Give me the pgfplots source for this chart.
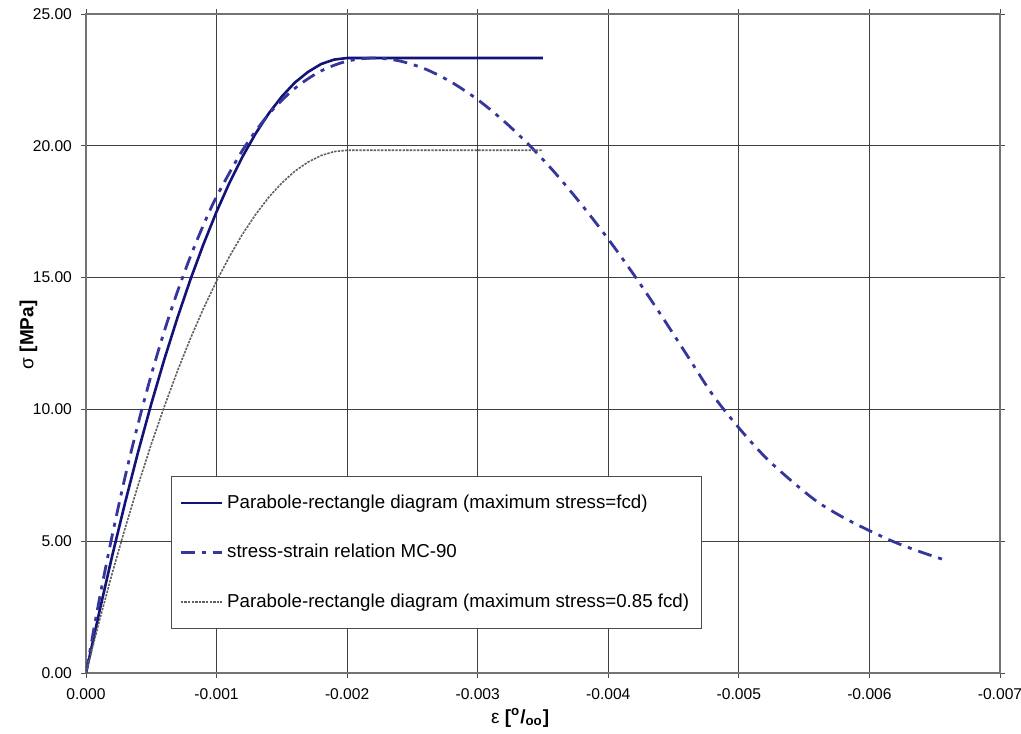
\documentclass[border=0pt]{standalone}
\usepackage{fontspec}
\setmainfont{Liberation Sans}
\usepackage{pgfplots}
\pgfplotsset{compat=1.18}
\definecolor{navy}{HTML}{12127A}
\definecolor{mcblue}{HTML}{35359C}
\definecolor{pgray}{HTML}{606060}

\begin{document}
\begin{tikzpicture}
\useasboundingbox (-43pt,-30pt) rectangle (467.5pt,336.5pt);
\begin{axis}[
  scale only axis, width=457pt, height=329.5pt,
  x dir=reverse,
  xmin=-0.007, xmax=0, ymin=0, ymax=25,
  xtick={0,-0.001,-0.002,-0.003,-0.004,-0.005,-0.006,-0.007},
  xticklabels={0.000,-0.001,-0.002,-0.003,-0.004,-0.005,-0.006,-0.007},
  ytick={0,5,10,15,20,25},
  yticklabels={0.00,5.00,10.00,15.00,20.00,25.00},
  scaled x ticks=false,
  grid=major, major grid style={black!75, line width=0.4pt},
  axis line style={black!55, line width=0.8pt},
  tick align=outside, major tick length=2.5pt,
  tick style={black!70, line width=0.4pt},
  tick label style={font=\fontsize{7.8}{9}\selectfont},
  xticklabel style={yshift=-2pt},
  yticklabel style={xshift=-1pt},
  xlabel={{\fontsize{9.5}{10}\selectfont ε} \textbf{[\textsuperscript{o}/\textsubscript{oo}]}},
  ylabel={{\fontsize{9.5}{10}\selectfont σ} \textbf{[MPa]}},
  label style={font=\fontsize{9.5}{10}\selectfont},
  xlabel style={at={(axis description cs:0.475,0)}, anchor=center, yshift=-22.5pt},
  ylabel style={at={(axis description cs:-0.063,0.513)}, anchor=center},
  legend style={at={(axis description cs:0.093,0.067)}, anchor=south west,
    draw=black!70, fill=white, font=\fontsize{9.35}{10}\selectfont,
    inner xsep=4pt, inner ysep=7pt, row sep=12.5pt},
  legend cell align=left,
  legend image code/.code={\draw[#1] (0pt,0pt) -- (20.5pt,0pt);},
]
\addplot[navy, line width=1.3pt] coordinates {
(0,0)(-0.0001,2.27)(-0.0002,4.43)(-0.0003,6.47)(-0.0004,8.40)(-0.0005,10.21)
(-0.0006,11.90)(-0.0007,13.47)(-0.0008,14.93)(-0.0009,16.27)(-0.0010,17.50)
(-0.0011,18.61)(-0.0012,19.60)(-0.0013,20.47)(-0.0014,21.23)(-0.0015,21.87)
(-0.0016,22.40)(-0.0017,22.80)(-0.0018,23.10)(-0.0019,23.27)(-0.0020,23.33)
(-0.0035,23.33)};
\addlegendentry{Parabole-rectangle diagram (maximum stress=fcd)}
\addplot[mcblue, line width=1.4pt, smooth,
  dash pattern=on 7pt off 3.5pt on 2pt off 3.5pt] coordinates {
(0,0)(-0.0001,2.73)(-0.0002,5.20)(-0.0003,7.45)(-0.0004,9.47)(-0.0005,11.31)
(-0.0006,12.97)(-0.0007,14.46)(-0.0008,15.80)(-0.0009,17.00)(-0.0010,18.07)
(-0.0012,19.84)(-0.0014,21.20)(-0.0016,22.18)(-0.0018,22.84)(-0.0020,23.21)
(-0.0022,23.33)(-0.0024,23.22)(-0.0026,22.91)(-0.0028,22.41)(-0.0030,21.75)
(-0.0032,20.94)(-0.0034,20.00)(-0.0036,18.93)(-0.0038,17.74)(-0.0040,16.46)
(-0.0042,15.08)(-0.0044,13.61)(-0.0046,12.08)(-0.0048,10.55)(-0.0050,9.30)
(-0.0052,8.20)(-0.0054,7.30)(-0.0056,6.50)(-0.0058,5.90)(-0.0060,5.40)
(-0.0062,4.95)(-0.0064,4.58)(-0.0066,4.25)};
\addlegendentry{stress-strain relation MC-90}
\addplot[pgray, line width=0.8pt, dash pattern=on 1.2pt off 0.6pt] coordinates {
(0,0)(-0.0001,1.93)(-0.0002,3.77)(-0.0003,5.50)(-0.0004,7.14)(-0.0005,8.68)
(-0.0006,10.11)(-0.0007,11.45)(-0.0008,12.69)(-0.0009,13.83)(-0.0010,14.87)
(-0.0011,15.81)(-0.0012,16.66)(-0.0013,17.40)(-0.0014,18.05)(-0.0015,18.59)
(-0.0016,19.04)(-0.0017,19.38)(-0.0018,19.63)(-0.0019,19.78)(-0.0020,19.83)
(-0.0035,19.83)};
\addlegendentry{Parabole-rectangle diagram (maximum stress=0.85 fcd)}
\end{axis}
\end{tikzpicture}
\end{document}
